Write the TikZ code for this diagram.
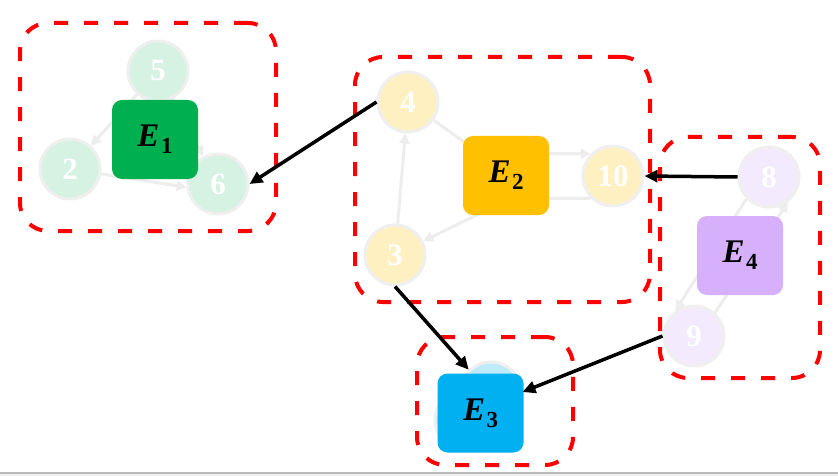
\documentclass[tikz,border=0pt]{standalone}
\usepackage{fontspec}
\setmainfont{Liberation Serif}
\usetikzlibrary{arrows.meta,calc}
\definecolor{gfill}{HTML}{D5F2E3}
\definecolor{yfill}{HTML}{FFF0C2}
\definecolor{pfill}{HTML}{F3EBFD}
\definecolor{bfill}{HTML}{BDEBFA}
\definecolor{vborder}{HTML}{EFEFEF}
\definecolor{gedgec}{HTML}{EDEDED}
\definecolor{eone}{HTML}{00B050}
\definecolor{etwo}{HTML}{FFC000}
\definecolor{ethree}{HTML}{00B0F0}
\definecolor{efour}{HTML}{D6B0FA}
\newcommand{\esub}[1]{\textit{E}\kern1.5pt\raisebox{-7pt}{\fontsize{23}{23}\selectfont #1}}
\begin{document}
\begin{tikzpicture}[x=1pt,y=-1pt,
  vtx/.style={circle, minimum size=60pt, inner sep=0pt, line width=3pt, draw=vborder,
    font=\fontsize{31}{31}\selectfont\bfseries, text=white},
  ebox/.style={rounded corners=10pt, minimum width=86pt, minimum height=79pt, inner sep=0pt,
    font=\fontsize{33}{33}\selectfont\bfseries},
  gedge/.style={draw=gedgec, line width=3pt, -{Triangle[length=10pt,width=10pt]}},
  cluster/.style={draw=red, line width=4pt, dash pattern=on 14pt off 16pt, rounded corners=28pt,
    inner sep=0pt},
  link/.style={draw=black, line width=3.5pt, -{Triangle[length=13pt,width=12pt]}}]
\useasboundingbox (0,0) rectangle (838,476);
\fill[white] (0,0) rectangle (838,476);
\fill[gray!55] (0,471.5) rectangle (838,474);
\fill[gray!12] (0,474) rectangle (838,476);

% vertices
\node[vtx, fill=gfill] (n5) at (158,71) {5};
\node[vtx, fill=gfill] (n2) at (70,169) {2};
\node[vtx, fill=gfill] (n6) at (218,184) {6};
\node[vtx, fill=yfill] (n4) at (408,102) {4};
\node[vtx, fill=yfill] (n3) at (395,255) {3};
\node[vtx, fill=yfill] (n10) at (613,176) {10};
\node[vtx, fill=pfill] (n8) at (769,177) {8};
\node[vtx, fill=pfill] (n9) at (694,336) {9};
\node[vtx, fill=bfill] (nB) at (465,420) {};
\node[vtx, fill=bfill] (nA) at (491,392) {};

% internal edges
\draw[gedge] (n5) -- (n2);
\draw[gedge] (n2) -- (n6.186);
\draw[gedge] (n5) -- (n6);
\draw[gedge] (n3) -- (n4);
\draw[gedge] (n4) -- ($(n10.135)+(-110,0)$) -- (n10.135);
\draw[gedge] (n10.225) -- ++(-80,0) -- (n3);
\draw[gedge] (n9.48) -- (n8.307);
\draw[gedge] (n8.224) -- (n9.126);

% super nodes
\node[ebox, fill=eone] (e1) at (155,139.5) {\esub{1}};
\node[ebox, fill=etwo] (e2) at (506,175.5) {\esub{2}};
\node[ebox, fill=ethree] (e3) at (480.5,413) {\esub{3}};
\node[ebox, fill=efour] (e4) at (740,255.5) {\esub{4}};

% clusters
\node[cluster, minimum width=256pt, minimum height=208pt] (c1) at (148,127) {};
\node[cluster, minimum width=295pt, minimum height=245pt] (c2) at (502.5,179.5) {};
\node[cluster, minimum width=156pt, minimum height=128pt] (c3) at (495,401) {};
\node[cluster, minimum width=160pt, minimum height=241pt] (c4) at (740,257.5) {};

% links between clusters
\draw[link] (n4.west) -- (n6.east);
\draw[link] (n8.west) -- (n10.east);
\draw[link] (n3.south) -- (nA.north west);
\draw[link] (n9.west) -- (nA.east);
\end{tikzpicture}
\end{document}
